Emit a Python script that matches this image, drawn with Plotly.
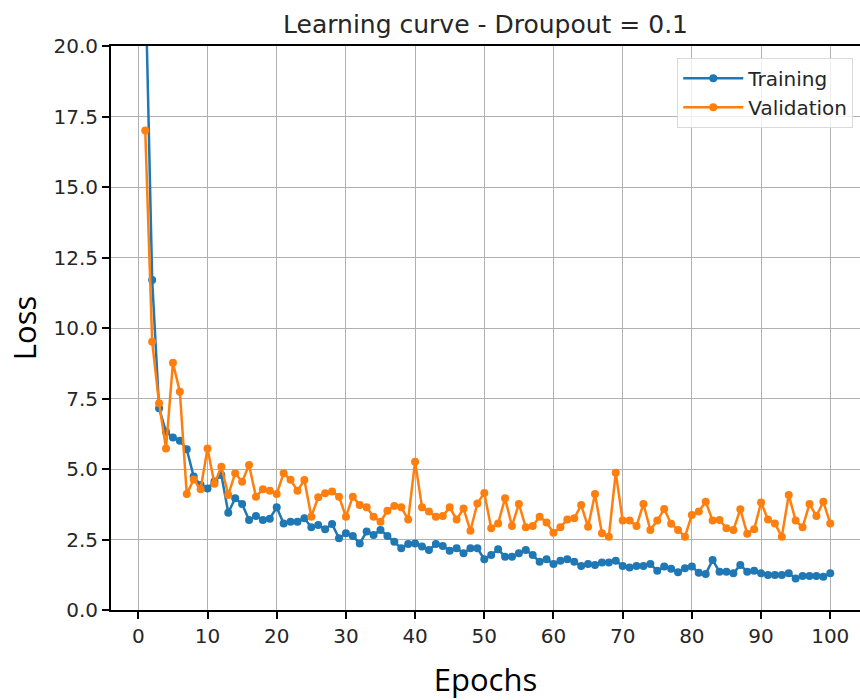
import plotly.graph_objects as go

epochs = list(range(1, 101))

training = [
    22.6, 11.7, 7.15, 6.32, 6.12, 6.0, 5.70, 4.73, 4.43, 4.31,
    4.56, 4.79, 3.45, 3.96, 3.76, 3.19, 3.33, 3.19, 3.24, 3.64,
    3.07, 3.13, 3.13, 3.25, 2.93, 3.01, 2.86, 3.05, 2.54, 2.72,
    2.62, 2.36, 2.78, 2.66, 2.84, 2.62, 2.42, 2.19, 2.34, 2.36,
    2.25, 2.13, 2.34, 2.27, 2.10, 2.19, 2.01, 2.19, 2.19, 1.80,
    1.95, 2.15, 1.89, 1.89, 2.01, 2.13, 1.95, 1.71, 1.80, 1.63,
    1.75, 1.80, 1.71, 1.56, 1.63, 1.60, 1.68, 1.68, 1.75, 1.56,
    1.51, 1.56, 1.56, 1.63, 1.39, 1.54, 1.46, 1.34, 1.48, 1.54,
    1.32, 1.28, 1.77, 1.36, 1.36, 1.30, 1.60, 1.36, 1.39, 1.30,
    1.24, 1.24, 1.24, 1.30, 1.12, 1.21, 1.21, 1.21, 1.18, 1.30,
]

validation = [
    17.0, 9.51, 7.33, 5.73, 8.77, 7.74, 4.11, 4.63, 4.28, 5.73,
    4.48, 5.08, 4.08, 4.85, 4.55, 5.14, 4.02, 4.28, 4.23, 4.11,
    4.85, 4.62, 4.23, 4.61, 3.31, 4.0, 4.14, 4.20, 4.02, 3.31,
    4.02, 3.72, 3.64, 3.31, 3.13, 3.52, 3.69, 3.64, 3.21, 5.26,
    3.64, 3.49, 3.31, 3.33, 3.64, 3.21, 3.60, 2.81, 3.78, 4.15,
    2.90, 3.07, 3.96, 2.98, 3.76, 2.93, 2.98, 3.31, 3.10, 2.74,
    2.93, 3.21, 3.25, 3.72, 2.95, 4.11, 2.72, 2.60, 4.87, 3.17,
    3.17, 2.98, 3.76, 2.84, 3.17, 3.58, 3.06, 2.84, 2.60, 3.37,
    3.49, 3.84, 3.17, 3.19, 2.90, 2.84, 3.57, 2.70, 2.86, 3.81,
    3.21, 3.07, 2.60, 4.08, 3.17, 2.93, 3.76, 3.33, 3.84, 3.07,
]

x_ticks = list(range(0, 101, 10))
y_ticks = [0, 2.5, 5, 7.5, 10, 12.5, 15, 17.5, 20]
y_tick_labels = ["0.0", "2.5", "5.0", "7.5", "10.0", "12.5", "15.0", "17.5", "20.0"]

tick_font = dict(family="DejaVu Sans", size=20, color="#262626")

fig = go.Figure()
fig.add_trace(go.Scatter(
    x=epochs, y=training, mode="lines+markers", name="Training",
    line=dict(color="#1f77b4", width=2.5),
    marker=dict(color="#1f77b4", size=8),
))
fig.add_trace(go.Scatter(
    x=epochs, y=validation, mode="lines+markers", name="Validation",
    line=dict(color="#ff7f0e", width=2.5),
    marker=dict(color="#ff7f0e", size=8),
))

fig.update_layout(
    width=860, height=700,
    margin=dict(l=111, r=0, t=46, b=90),
    paper_bgcolor="white", plot_bgcolor="white",
    title=dict(text="Learning curve - Droupout = 0.1", x=0.5, xref="paper",
               xanchor="center", y=1 - 24 / 700, yanchor="middle",
               font=dict(family="DejaVu Sans", size=25, color="#262626")),
    legend=dict(x=0.991, y=0.979, xanchor="right", yanchor="top",
                bgcolor="rgba(255,255,255,0.8)", bordercolor="#d9d9d9", borderwidth=1,
                font=dict(family="DejaVu Sans", size=20, color="#262626"),
                itemwidth=60, tracegroupgap=4),
    showlegend=True,
)

fig.update_xaxes(
    range=[-3.95, 104.3], tickvals=x_ticks, ticktext=[str(v) for v in x_ticks],
    showgrid=True, gridcolor="#b0b0b0", gridwidth=1.2,
    showline=True, linecolor="black", linewidth=2, mirror=True,
    ticks="outside", ticklen=7, tickwidth=2, tickcolor="black",
    tickfont=tick_font, zeroline=False,
    title=dict(text="Epochs", font=dict(family="Open Sans", size=31, color="black"), standoff=24),
)
fig.update_yaxes(
    range=[0, 20], tickvals=y_ticks, ticktext=y_tick_labels,
    showgrid=True, gridcolor="#b0b0b0", gridwidth=1.2,
    showline=True, linecolor="black", linewidth=2, mirror=False,
    ticks="outside", ticklen=7, tickwidth=2, tickcolor="black",
    tickfont=tick_font, zeroline=False,
    title=dict(text="Loss", font=dict(family="Open Sans", size=31, color="black"), standoff=8),
)

fig.write_html("out.html")
